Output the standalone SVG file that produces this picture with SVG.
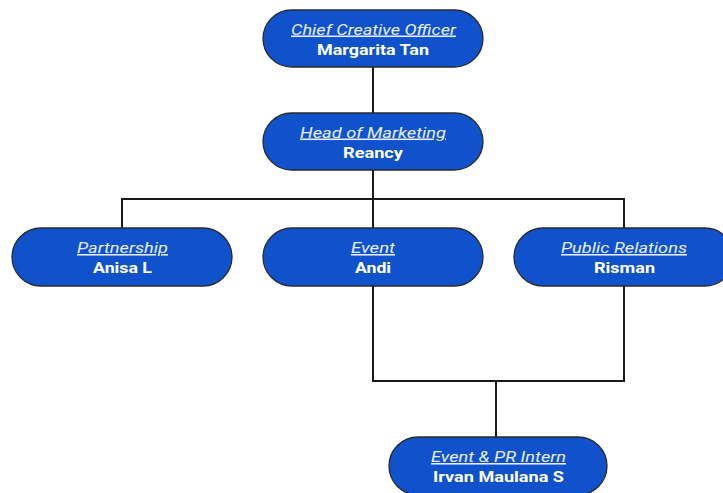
<svg xmlns="http://www.w3.org/2000/svg" width="723" height="493" viewBox="0 0 723 493">
<style>
.n{fill:#0f52cc;stroke:#2a2a2a;stroke-width:1.3}
.t{font-family:Roboto,"Liberation Sans",sans-serif;font-size:15.5px;font-style:italic;fill:#e8eeff;text-decoration:underline;text-anchor:middle}
.m{font-family:Roboto,"Liberation Sans",sans-serif;font-size:15.5px;font-weight:bold;fill:#ffffff;text-anchor:middle}
.c{fill:none;stroke:#1a1a1a;stroke-width:2}
</style>
<rect width="723" height="493" fill="#ffffff"/>
<g id="connectors">
<path class="c" d="M373 67V113"/>
<path class="c" d="M373 170V199M122 228V199H624V228M373 199V228"/>
<path class="c" d="M373 286V381H624V286M496 381V437"/>
</g>
<g id="cco">
<rect class="n" x="263" y="10" width="220" height="57" rx="28.5"/>
<text class="t" x="373.5" y="34.5" textLength="165" lengthAdjust="spacingAndGlyphs">Chief Creative Officer</text>
<text class="m" x="373" y="55" textLength="112" lengthAdjust="spacingAndGlyphs">Margarita Tan</text>
</g>
<g id="hom">
<rect class="n" x="263" y="113" width="220" height="57" rx="28.5"/>
<text class="t" x="373" y="137.5" textLength="146" lengthAdjust="spacingAndGlyphs">Head of Marketing</text>
<text class="m" x="373" y="158" textLength="60" lengthAdjust="spacingAndGlyphs">Reancy</text>
</g>
<g id="partnership">
<rect class="n" x="12" y="228" width="220" height="58" rx="29"/>
<text class="t" x="122.5" y="253" textLength="91" lengthAdjust="spacingAndGlyphs">Partnership</text>
<text class="m" x="122.5" y="273" textLength="59" lengthAdjust="spacingAndGlyphs">Anisa L</text>
</g>
<g id="event">
<rect class="n" x="263" y="228" width="220" height="58" rx="29"/>
<text class="t" x="373" y="253" textLength="44" lengthAdjust="spacingAndGlyphs">Event</text>
<text class="m" x="373" y="273" textLength="36" lengthAdjust="spacingAndGlyphs">Andi</text>
</g>
<g id="pr">
<rect class="n" x="514" y="228" width="220" height="58" rx="29"/>
<text class="t" x="624" y="253" textLength="126" lengthAdjust="spacingAndGlyphs">Public Relations</text>
<text class="m" x="624.5" y="273" textLength="61" lengthAdjust="spacingAndGlyphs">Risman</text>
</g>
<g id="intern">
<rect class="n" x="389" y="437" width="218" height="58" rx="29"/>
<text class="t" x="498.5" y="462" textLength="135" lengthAdjust="spacingAndGlyphs">Event &amp; PR Intern</text>
<text class="m" x="498.5" y="482" textLength="131" lengthAdjust="spacingAndGlyphs">Irvan Maulana S</text>
</g>
</svg>
